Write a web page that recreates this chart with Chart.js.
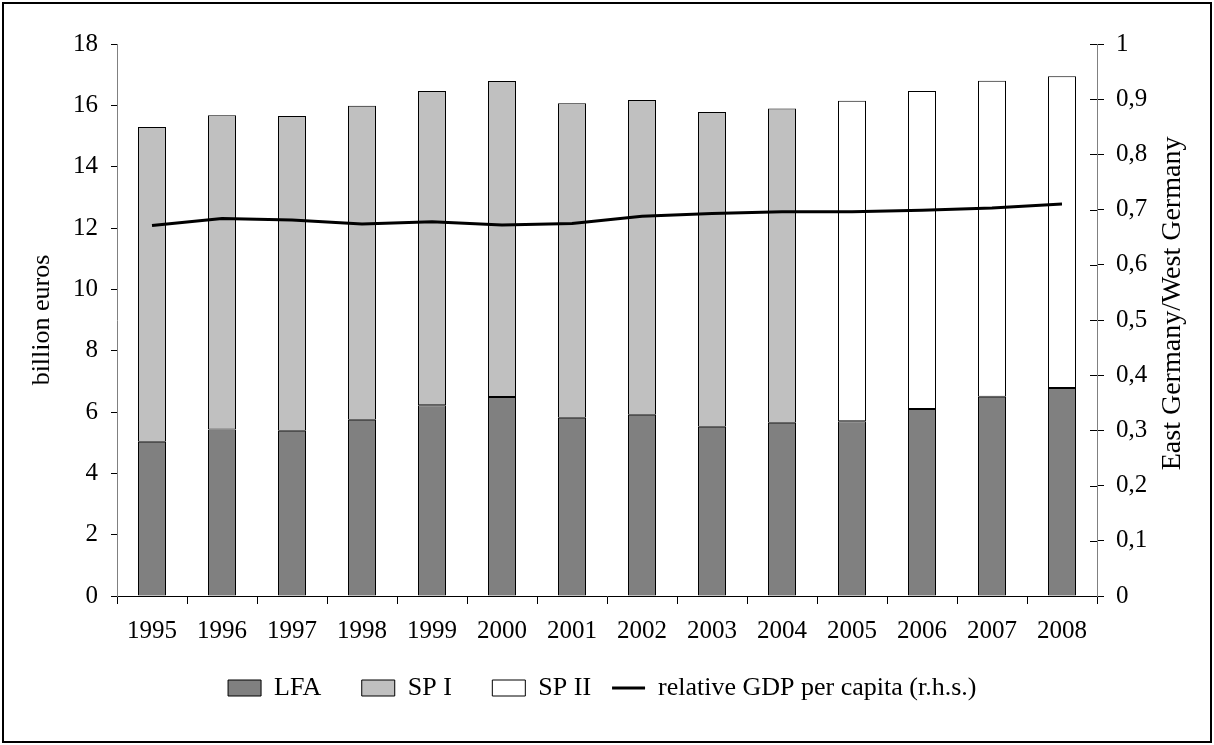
<!DOCTYPE html>
<html>
<head>
<meta charset="utf-8">
<script src="https://cdn.jsdelivr.net/npm/chart.js@4"></script>
<style>
    body { margin: 0; background: #fff; }
    #wrap { position: relative; width: 1214px; height: 745px; }
    #frame {
        position: absolute; left: 2px; top: 2px; width: 1206px; height: 737px;
        border: 2px solid #000; pointer-events: none;
    }
</style>
</head>
<body>
<div id="wrap">
    <canvas id="chart" width="1214" height="745"></canvas>
    <div id="frame"></div>
</div>
<script>
// Data
const years = ['1995', '1996', '1997', '1998', '1999', '2000', '2001',
               '2002', '2003', '2004', '2005', '2006', '2007', '2008'];

// billion euros
const lfa  = [5.03, 5.43, 5.39, 5.75, 6.22, 6.49, 5.81, 5.91, 5.52, 5.65, 5.70, 6.10, 6.50, 6.78];
const sp1  = [10.26, 10.25, 10.26, 10.24, 10.25, 10.30, 10.26, 10.26, 10.26, 10.25, null, null, null, null];
const sp2  = [null, null, null, null, null, null, null, null, null, null, 10.45, 10.37, 10.30, 10.17];

// East Germany / West Germany, r.h.s.
const relGdp = [0.671, 0.684, 0.681, 0.674, 0.678, 0.672, 0.675, 0.688, 0.693, 0.696, 0.696, 0.699, 0.703, 0.710];

const rightTitle = 'East Germany/West Germany';

const FONT = 'Liberation Serif, Times New Roman, serif';

// right axis: ticks cross the axis line, and the title reads bottom to top
const rightAxisExtras = {
    id: 'rightAxisExtras',
    afterDraw(chart) {
        const s = chart.scales.y1;
        const ctx = chart.ctx;
        ctx.save();
        ctx.strokeStyle = '#000';
        ctx.lineWidth = 1;
        s.ticks.forEach(t => {
            const y = Math.round(s.getPixelForValue(t.value)) + 0.5;
            ctx.beginPath();
            ctx.moveTo(s.left - 7, y);
            ctx.lineTo(s.left, y);
            ctx.stroke();
        });
        ctx.translate(s.right - 31, s.getPixelForValue(0.53));
        ctx.rotate(-Math.PI / 2);
        ctx.font = '28px ' + FONT;
        ctx.fillStyle = '#000';
        ctx.textAlign = 'center';
        ctx.textBaseline = 'middle';
        ctx.fillText(rightTitle, 0, 0);
        ctx.restore();
    }
};

const barStyle = {
    borderColor: '#000',
    borderWidth: 1,
    borderSkipped: false,
    categoryPercentage: 1,
    barPercentage: 0.4,
    pointStyle: 'rect',
    order: 1,
    yAxisID: 'y'
};

const tickFont = { family: FONT, size: 25 };

new Chart(document.getElementById('chart'), {
    type: 'bar',
    data: {
        labels: years,
        datasets: [
            { ...barStyle, label: 'LFA', data: lfa, backgroundColor: '#808080' },
            { ...barStyle, label: 'SP I', data: sp1, backgroundColor: '#c0c0c0' },
            { ...barStyle, label: 'SP II', data: sp2, backgroundColor: '#ffffff' },
            {
                type: 'line',
                label: 'relative GDP per capita (r.h.s.)',
                data: relGdp,
                yAxisID: 'y1',
                borderColor: '#000',
                backgroundColor: '#000',
                borderWidth: 3,
                pointRadius: 0,
                pointStyle: 'line',
                tension: 0,
                fill: false,
                order: 0
            }
        ]
    },
    options: {
        responsive: false,
        animation: false,
        layout: { padding: { left: 20, right: 10, top: 44, bottom: 34 } },
        plugins: {
            tooltip: { enabled: false },
            legend: {
                position: 'bottom',
                labels: {
                    usePointStyle: true,
                    pointStyleWidth: 33,
                    boxHeight: 16,
                    padding: 21,
                    color: '#000',
                    font: { family: FONT, size: 26 },
                    sort: (a, b) => a.datasetIndex - b.datasetIndex,
                    generateLabels: chart => {
                        const items = Chart.defaults.plugins.legend.labels.generateLabels(chart);
                        // wider gap after the first three entries
                        items.forEach((it, i) => { if (i < 3) it.text += '\u2002 '; });
                        return items;
                    }
                }
            }
        },
        scales: {
            x: {
                stacked: true,
                grid: {
                    display: true,
                    drawOnChartArea: false,
                    offset: true,
                    tickLength: 8,
                    color: '#000'
                },
                border: { color: '#000', width: 1 },
                ticks: { color: '#000', padding: 12, font: tickFont },
                afterFit: s => { s.height = 58; }
            },
            y: {
                stacked: true,
                position: 'left',
                min: 0,
                max: 18,
                ticks: { stepSize: 2, color: '#000', padding: 13, font: tickFont },
                grid: { display: true, drawOnChartArea: false, tickLength: 6, color: '#000' },
                border: { color: '#808080', width: 1 },
                title: {
                    display: true,
                    text: 'billion euros',
                    color: '#000',
                    font: { family: FONT, size: 26 },
                    padding: { top: 7, bottom: 0 }
                },
                afterFit: s => { s.width = 97; }
            },
            y1: {
                position: 'right',
                min: 0,
                max: 1,
                ticks: {
                    stepSize: 0.1,
                    color: '#000',
                    padding: 12,
                    font: tickFont,
                    callback: v => String(Math.round(v * 10) / 10).replace('.', ',')
                },
                grid: { display: true, drawOnChartArea: false, tickLength: 7, color: '#000' },
                border: { color: '#808080', width: 1 },
                afterFit: s => { s.width = 107; }
            }
        }
    },
    plugins: [rightAxisExtras]
});
</script>
</body>
</html>
